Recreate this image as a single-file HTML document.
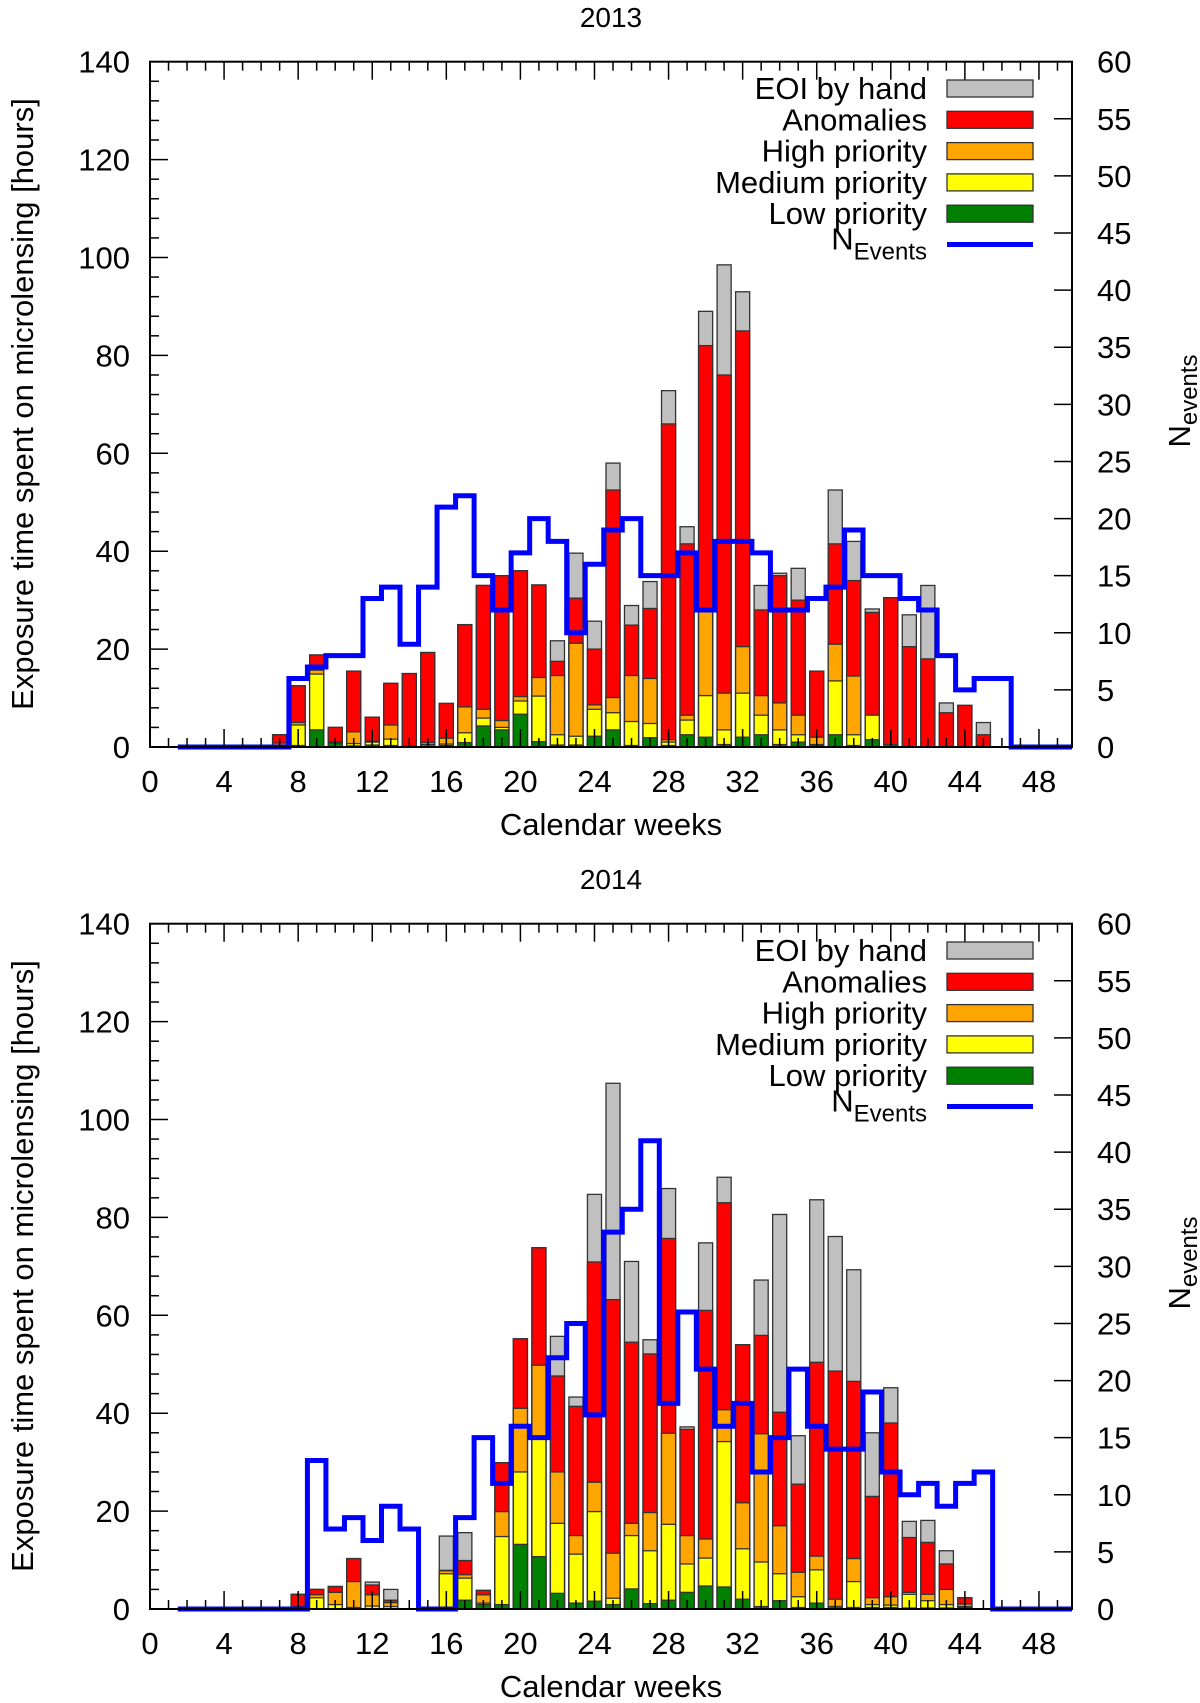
<!DOCTYPE html>
<html><head><meta charset="utf-8"><style>
html,body{margin:0;padding:0;background:#fff;}
svg{display:block;font-family:"Liberation Sans",sans-serif;}
</style></head><body>
<svg id="chart" width="1200" height="1703" viewBox="0 0 1200 1703" xmlns="http://www.w3.org/2000/svg"></svg>
<script>
// ---- data 2013 ----
const weeks2013 = [7,8,9,10,11,12,13,14,15,16,17,18,19,20,21,22,23,24,25,26,27,28,29,30,31,32,33,34,35,36,37,38,39,40,41,42,43,44,45];
const low2013  = [0,0.3,3.5,0.8,0.2,0.4,0.3,0,0.2,0.3,0.9,4.3,3.5,6.7,1.1,0.4,0.4,2.2,3.5,0.3,1.9,0.3,2.5,2,0.5,2,2.5,0.5,1,0.3,2.5,0.3,1.5,0.5,0,0,0,0,0];
const med2013  = [0.4,4.5,14.9,1,0.7,1,1.6,0,0.5,0.6,2.9,5.9,4,9.4,10.4,2.5,2.2,7.7,7,5.2,4.8,1,5.5,10.5,3.5,11,6.5,3.5,2.5,0.5,13.5,2.5,6.5,0.5,0,0,0,0,0];
const high2013 = [0.8,5,15.7,1.1,3.1,1.2,4.5,0.2,0.9,1.8,8.2,7.7,5.4,10.3,14.2,14.6,21.2,8.6,10.1,14.6,14,1.5,6.5,28,11,20.5,10.5,9,6.5,2,21,14.5,6.5,0.5,0,0,0,0,0];
const anom2013 = [2.5,12.5,18.8,4,15.5,6.1,13,15,19.3,8.9,25,33,35,36,33.1,17.5,30.4,20,52.5,24.9,28.3,66,41.5,82,76,85,28,35,30,15.5,41.5,34,27.5,30.5,20.5,18,7,8.5,2.5];
const eoi2013  = [2.5,12.5,18.8,4,15.5,6.1,13,15,19.3,8.9,25,33,35,36,33.1,21.7,39.6,25.7,58,28.9,33.8,72.8,45,89,98.5,93,33,35.5,36.5,15.5,52.5,42,28.2,30.5,27,33,9,8.5,5];
const nWeeks2013 = [2,3,4,5,6,7,8,9,10,11,12,13,14,15,16,17,18,19,20,21,22,23,24,25,26,27,28,29,30,31,32,33,34,35,36,37,38,39,40,41,42,43,44,45,46,47,48,49];
const nEvents2013 = [0,0,0,0,0,0,6,7,8,8,13,14,9,14,21,22,15,12,17,20,18,10,16,19,20,15,15,17,12,18,18,17,12,12,13,14,19,15,15,13,12,8,5,6,6,0,0,0];
// ---- data 2014 ----
const weeks2014 = [8,9,10,11,12,13,14,15,16,17,18,19,20,21,22,23,24,25,26,27,28,29,30,31,32,33,34,35,36,37,38,39,40,41,42,43,44];
const low2014  = [0,0,0,0,0,0,0,0,0,1.8,0.9,0.9,13.2,10.7,3.2,1.2,1.6,0.9,4.1,1.1,1.8,3.4,4.7,4.5,2,0.5,1.7,0.3,1.2,0.5,0.3,0.3,0.3,0.2,0.2,0.2,0.3];
const med2014  = [0.2,2.3,0.9,0.3,0.6,0.5,0,0,7.2,6.3,1.2,14.8,28,34.9,17.5,11.2,19.9,2.2,15,11.9,17.3,9.2,10.4,34.2,12.3,9.6,7.2,2.5,8,0.5,5.6,0.9,0.8,3,1.7,0.9,0.5];
const high2014 = [0.5,2.9,3.4,5.6,2.9,1.3,0,0,7.8,7,2.9,19.9,41,49.8,28,15,25.9,11.4,17.5,19.7,35.9,15,14.3,40.7,21.7,35.8,17,7.5,10.8,2,10.3,2.3,2.5,3.4,3,4,1];
const anom2014 = [3,4,4.6,10.3,4.9,1.8,0,0,7.9,9.9,3.8,29.9,55.2,73.8,47.6,41.4,70.9,63.2,54.5,52.1,75.7,36.7,61,83,54,55.9,40.2,25.5,50.4,48.6,46.5,23,38,14.6,13.6,9.2,2.3];
const eoi2014  = [3,4,4.6,10.3,5.5,4,0,0,14.9,15.6,3.8,29.9,55.2,73.8,55.7,43.3,84.7,107.4,71,55,85.9,37.2,74.8,88.2,54,67.2,80.6,35.4,83.6,76.1,69.3,36,45.2,17.9,18.1,11.9,2.3];
const nWeeks2014 = [2,3,4,5,6,7,8,9,10,11,12,13,14,15,16,17,18,19,20,21,22,23,24,25,26,27,28,29,30,31,32,33,34,35,36,37,38,39,40,41,42,43,44,45,46,47,48,49];
const nEvents2014 = [0,0,0,0,0,0,0,13,7,8,6,9,7,0,0,8,15,11,16,15,22,25,17,33,35,41,18,26,21,16,18,12,15,21,16,14,14,19,12,10,11,9,11,12,0,0,0,0];
const xTicks = [0,4,8,12,16,20,24,28,32,36,40,44,48];
const yTicks = [0,20,40,60,80,100,120,140];
const y2Ticks = [0,5,10,15,20,25,30,35,40,45,50,55,60];
const legendLabels = ["EOI by hand","Anomalies","High priority","Medium priority","Low priority"];
const legendColors = ["#c0c0c0","#ff0000","#ffa500","#ffff00","#008000"];

const NS="http://www.w3.org/2000/svg";
const svg=document.getElementById('chart');
function mk(tag,attrs,parent){const e=document.createElementNS(NS,tag);for(const k in attrs)e.setAttribute(k,attrs[k]);(parent||svg).appendChild(e);return e;}

const FS=31;
const L=150,R=1072,XMAX=(R-L)/18.52;
function drawPanel(off,title,weeks,low,med,high,anom,eoi,nW,nE,key){
  const T=61.7+off,B=747+off;
  const xs=w=>L+w*18.52;
  const ys=h=>B-h*(B-T)/140;
  const ys2=n=>B-n*(B-T)/60;
  const g=mk('g',{});
  
  
  const t=mk('text',{x:611,y:27+off,'font-size':28,'text-anchor':'middle'},g);t.textContent=title;
  
  
  const bw=0.76*18.52;
  const layers=[eoi,anom,high,med,low];
  const cols=["#c0c0c0","#ff0000","#ffa500","#ffff00","#008000"];
  const names=["eoi","anomalies","high","medium","low"];
  weeks.forEach((w,i)=>{
    if(eoi[i]<=0)return;
    layers.forEach((arr,j)=>{
      const v=arr[i]; if(v<=0)return;
      const r=mk('rect',{x:xs(w)-bw/2,y:ys(v),width:bw,height:B-ys(v),fill:cols[j],stroke:'#333',"stroke-width":1.3},g);
      
      
    });
  });
  let d='M'+xs(nW[0]-0.5)+','+ys2(nE[0]);
  nW.forEach((w,i)=>{
    const x0=Math.max(xs(w-0.5),xs(nW[0]-0.5)), x1=Math.min(xs(w+0.5),R);
    d+=' L'+x0+','+ys2(nE[i])+' L'+(i===nW.length-1?R:x1)+','+ys2(nE[i]);
  });
  const p=mk('path',{d:d,fill:'none',stroke:'#0000ff','stroke-width':5,'stroke-linejoin':'miter'},g);
  
  
  const f=mk('rect',{x:L,y:T,width:R-L,height:B-T,fill:'none',stroke:'#000','stroke-width':2},g);
  
  
  for(let w=1;w<XMAX;w++){
    const len=(w%4===0)?18:9;
    mk('line',{x1:xs(w),x2:xs(w),y1:B,y2:B-len,stroke:'#000','stroke-width':1.5},g);
    mk('line',{x1:xs(w),x2:xs(w),y1:T,y2:T+len,stroke:'#000','stroke-width':1.5},g);
  }
  xTicks.forEach(w=>{const tx=mk('text',{x:xs(w),y:B+45,'font-size':FS,'text-anchor':'middle'},g);tx.textContent=w;
    
    });
  for(let h=4;h<140;h+=4){
    const len=(h%20===0)?18:9;
    mk('line',{x1:L,x2:L+len,y1:ys(h),y2:ys(h),stroke:'#000','stroke-width':1.5},g);
  }
  yTicks.forEach(h=>{const tx=mk('text',{x:130,y:ys(h)+11,'font-size':FS,'text-anchor':'end'},g);tx.textContent=h;
    
    });
  for(let n=5;n<60;n+=5){
    mk('line',{x1:R,x2:R-18,y1:ys2(n),y2:ys2(n),stroke:'#000','stroke-width':1.5},g);
  }
  y2Ticks.forEach(n=>{const tx=mk('text',{x:1097,y:ys2(n)+11,'font-size':FS,'text-anchor':'start'},g);tx.textContent=n;
    
    });
  const xt=mk('text',{x:611,y:835+off,'font-size':FS,'text-anchor':'middle'},g);xt.textContent='Calendar weeks';
  
  
  const yt=mk('text',{x:0,y:0,'font-size':FS,'text-anchor':'middle',transform:'translate(33,'+(404+off)+') rotate(-90)'},g);yt.textContent='Exposure time spent on microlensing [hours]';
  
  
  const y2=mk('text',{x:0,y:0,'font-size':FS,'text-anchor':'middle',transform:'translate(1190,'+(401+off)+') rotate(-90)'},g);
  y2.innerHTML='N<tspan dy="7" font-size="24">events</tspan>';
  
  
  legendLabels.forEach((lab,i)=>{
    const yy=88+off+i*31.3;
    const lt=mk('text',{x:927,y:yy+11,'font-size':FS,'text-anchor':'end'},g);lt.textContent=lab;
    
    
    const sw=mk('rect',{x:947,y:yy-8,width:86,height:17,fill:legendColors[i],stroke:'#333','stroke-width':1.3},g);
    
    
  });
  const yy=88+off+5*31.3;
  const nt=mk('text',{x:927,y:yy+5,'font-size':FS,'text-anchor':'end'},g);
  nt.innerHTML='N<tspan dy="10" font-size="24">Events</tspan>';
  
  
  const nl=mk('line',{x1:947,x2:1033,y1:yy,y2:yy,stroke:'#0000ff','stroke-width':5},g);
  
  
}
drawPanel(0,'2013',weeks2013,low2013,med2013,high2013,anom2013,eoi2013,nWeeks2013,nEvents2013,'2013');
drawPanel(862,'2014',weeks2014,low2014,med2014,high2014,anom2014,eoi2014,nWeeks2014,nEvents2014,'2014');
</script>
</body></html>
